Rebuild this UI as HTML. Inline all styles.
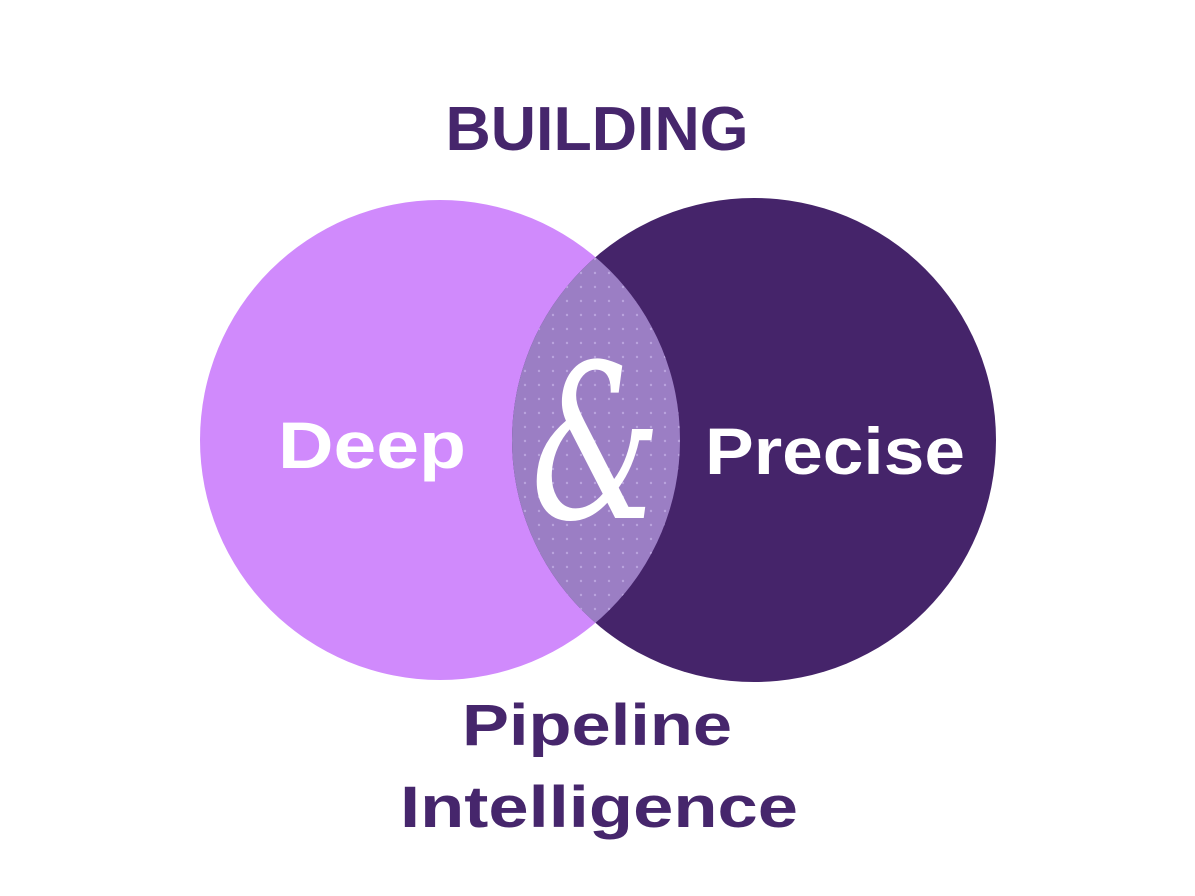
<!DOCTYPE html>
<html><head><meta charset="utf-8"><style>
html,body{margin:0;padding:0;background:#fff;}
svg{display:block}
text{font-family:"Liberation Sans",sans-serif;font-weight:bold}
text.w{font-weight:normal}
</style></head><body>
<svg width="1195" height="896" viewBox="0 0 1195 896" xmlns="http://www.w3.org/2000/svg">
<defs>
<clipPath id="cl"><circle cx="440" cy="440" r="240"/></clipPath>
<pattern id="dots" x="0" y="0" width="14" height="14" patternUnits="userSpaceOnUse">
<circle cx="7" cy="7" r="1.2" fill="#b9a3dd"/></pattern>
</defs>
<rect width="1195" height="896" fill="#fff"/>
<text x="597" y="150" text-anchor="middle" font-size="62" fill="#46266c" textLength="303" lengthAdjust="spacingAndGlyphs">BUILDING</text>
<circle cx="440" cy="440" r="240" fill="#d08afc"/>
<circle cx="754" cy="440" r="242" fill="#45246a"/>
<g clip-path="url(#cl)">
<circle cx="754" cy="440" r="242" fill="#9b7ec4"/>
<circle cx="754" cy="440" r="242" fill="url(#dots)"/>
</g>
<text x="372" y="468" text-anchor="middle" font-size="66" fill="#fff" textLength="188" lengthAdjust="spacingAndGlyphs" style="font-weight:600">Deep</text>
<text x="835" y="474" text-anchor="middle" font-size="66" fill="#fff" textLength="260" lengthAdjust="spacingAndGlyphs" style="font-weight:600">Precise</text>
<text class="w" x="596" y="518" text-anchor="middle" font-size="215" fill="#fff" font-style="italic" textLength="130" lengthAdjust="spacingAndGlyphs" style="font-family:'DejaVu Serif',serif;font-weight:normal;font-style:italic">&amp;</text>
<text x="597" y="745" text-anchor="middle" font-size="58" fill="#46266c" textLength="270" lengthAdjust="spacingAndGlyphs">Pipeline</text>
<text x="599" y="827" text-anchor="middle" font-size="58" fill="#46266c" textLength="398" lengthAdjust="spacingAndGlyphs">Intelligence</text>
</svg>
</body></html>
